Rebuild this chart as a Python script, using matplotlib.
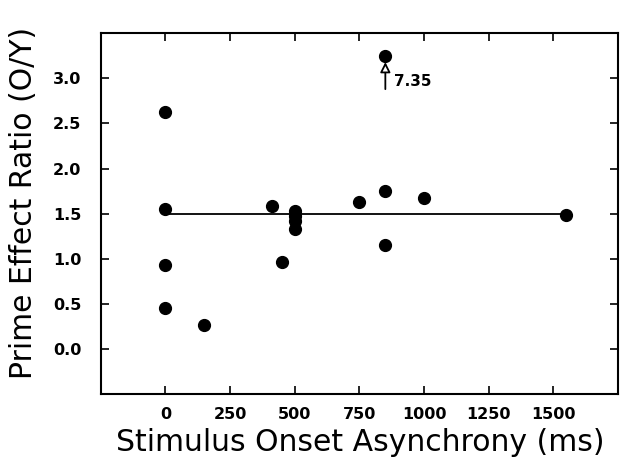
import matplotlib
matplotlib.use("Agg")
import matplotlib.pyplot as plt

# stimulus onset asynchrony (ms) and prime effect ratio (O/Y)
soa = [0, 0, 0, 0, 150, 410, 450, 500, 500, 500, 500, 750, 850, 850, 850, 1000, 1550]
ratio = [2.63, 1.55, 0.93, 0.45, 0.27, 1.58, 0.96, 1.53, 1.47, 1.42, 1.33, 1.63, 1.75, 1.15, 3.25, 1.67, 1.48]

# fitted line
fit_x = [0, 1550]
fit_y = [1.5, 1.5]

# off-scale value marker
out_x = 850
out_label = '7.35'

xticks = [0, 250, 500, 750, 1000, 1250, 1500]
yticks = [0.0, 0.5, 1.0, 1.5, 2.0, 2.5, 3.0]

fig = plt.figure(figsize=(6.34, 4.61), dpi=100)
ax = fig.add_axes([0.159, 0.145, 0.816, 0.783])

ax.plot(fit_x, fit_y, color='black', lw=1.3)
ax.plot(soa, ratio, 'o', color='black', ms=8.5)

ax.annotate('', xy=(out_x, 3.18), xytext=(out_x, 2.88),
            arrowprops=dict(arrowstyle='-|>', fc='white', ec='black', lw=1.3,
                            mutation_scale=15, shrinkA=0, shrinkB=0))
ax.text(out_x + 35, 2.97, out_label, fontsize=11, fontweight='bold', va='center', ha='left')

ax.set_xlim(-250, 1750)
ax.set_ylim(-0.5, 3.5)
ax.set_xticks(xticks)
ax.set_yticks(yticks)
ax.set_xticklabels([str(v) for v in xticks], fontsize=11.5, fontweight='bold')
ax.set_yticklabels(['%.1f' % v for v in yticks], fontsize=11.5, fontweight='bold')
ax.tick_params(direction='in', top=True, right=True, length=6, width=1.2)
ax.tick_params(axis='x', pad=9)
ax.tick_params(axis='y', pad=14)
for s in ax.spines.values():
    s.set_linewidth(1.5)

fig.text(360 / 634, 1 - 451 / 461, 'Stimulus Onset Asynchrony (ms)', fontsize=21.5,
         ha='center', va='baseline')
fig.text(24 / 634, 1 - 203 / 461, 'Prime Effect Ratio (O/Y)', fontsize=21.5,
         rotation=90, ha='center', va='center')

fig.savefig('out.png', dpi=100)
